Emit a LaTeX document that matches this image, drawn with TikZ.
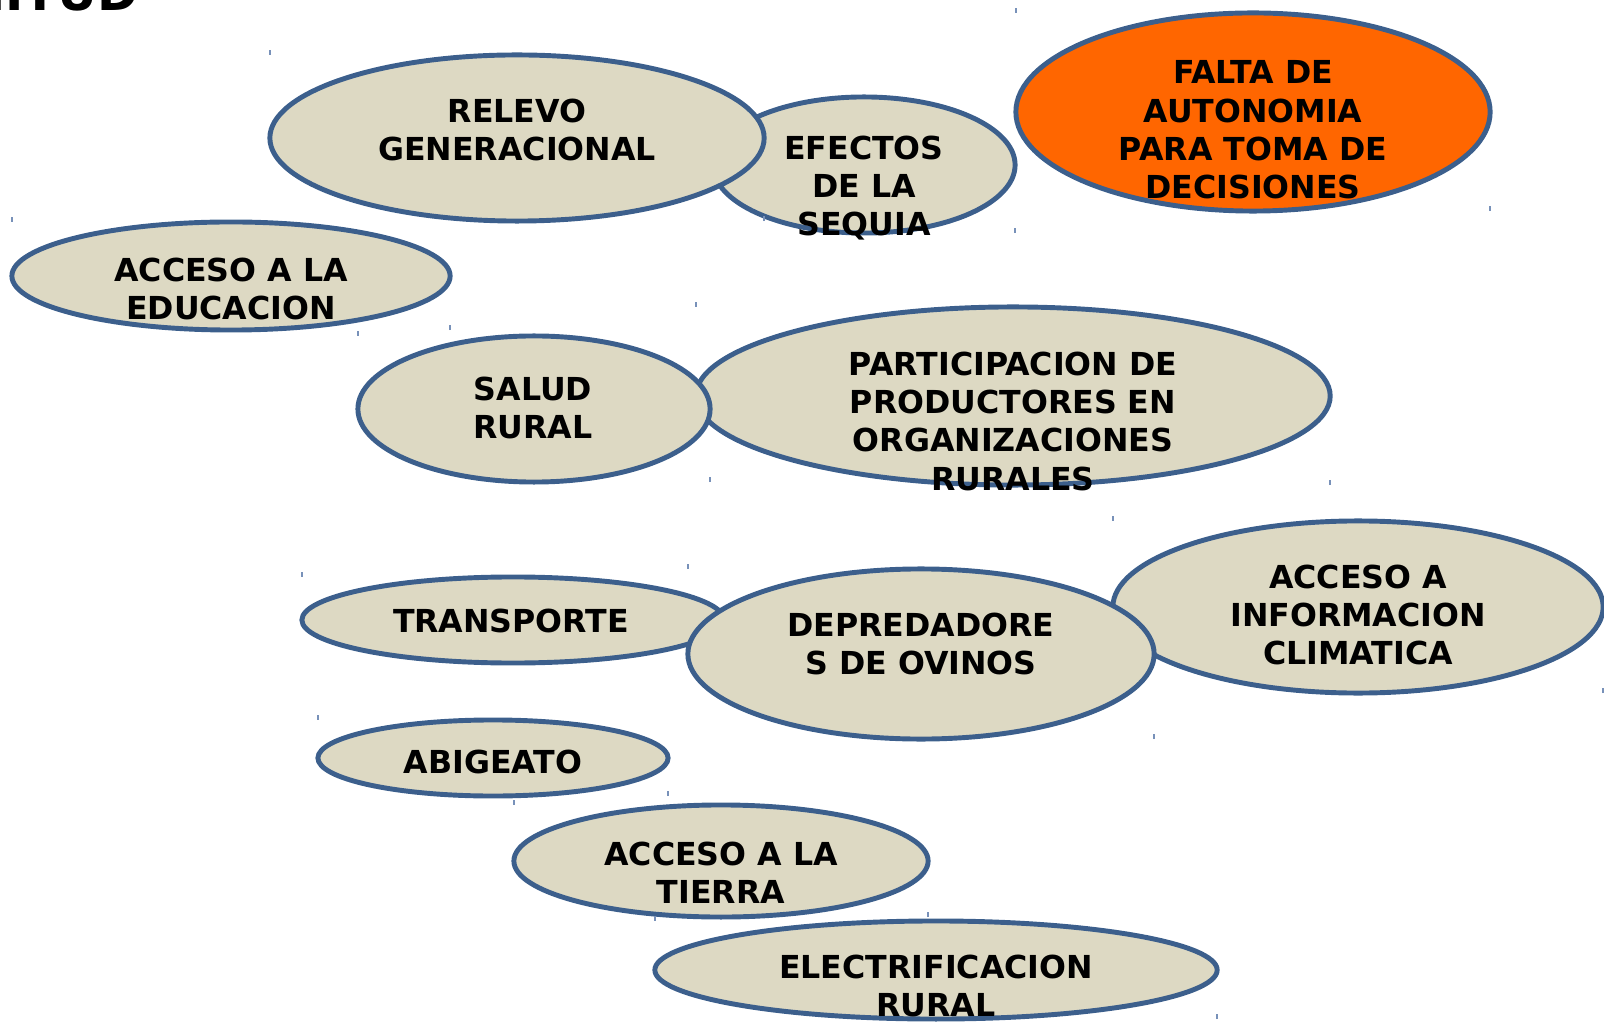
\documentclass[tikz,border=0pt]{standalone}
\usepackage{fontspec}
\setmainfont{DejaVu Sans}
\usetikzlibrary{shapes.geometric}
\definecolor{tan}{RGB}{221,217,195}
\definecolor{edge}{RGB}{60,95,140}
\definecolor{orng}{RGB}{255,102,0}
\definecolor{tickc}{RGB}{120,145,185}
\tikzstyle{tick} = [draw=tickc, line width=0.7pt]
\tikzstyle{blob} = [ellipse, draw=edge, fill=tan, line width=1.4pt,
  inner sep=0pt, outer sep=0pt,
  append after command={\pgfextra{
      \draw[tick] (\tikzlastnode.north -| \tikzlastnode.west) -- ++(0,-5)
      (\tikzlastnode.south -| \tikzlastnode.east) -- ++(0,-5);}}]
\tikzstyle{orangeblob} = [blob, fill=orng]
\tikzstyle{lbl} = [align=center, inner sep=0pt,
  font=\fontsize{9pt}{10.9pt}\selectfont\bfseries]

\begin{document}
\begin{tikzpicture}[x=0.01cm, y=-0.01cm]
    \clip (0,0) rectangle (1604,1022);
    \node[anchor=base east, inner sep=0pt,
    font=\fontsize{14pt}{16pt}\selectfont\bfseries] (title) at (139,11) {NITUD};

    % ellipses, back to front
    \node[blob, minimum width=3.02cm, minimum height=1.36cm] (efectos) at (864,165) {};
    \node[blob, minimum width=4.94cm, minimum height=1.66cm] (relevo) at (517,138) {};
    \node[orangeblob, minimum width=4.74cm, minimum height=1.98cm] (falta) at (1253,112) {};
    \node[blob, minimum width=4.38cm, minimum height=1.08cm] (educacion) at (231,276) {};
    \node[blob, minimum width=6.34cm, minimum height=1.78cm] (particip) at (1013,396) {};
    \node[blob, minimum width=3.52cm, minimum height=1.46cm] (salud) at (534,409) {};
    \node[blob, minimum width=4.22cm, minimum height=0.86cm] (transporte) at (513,620) {};
    \node[blob, minimum width=4.90cm, minimum height=1.72cm] (clima) at (1358,607) {};
    \node[blob, minimum width=4.66cm, minimum height=1.70cm] (depred) at (921,654) {};
    \node[blob, minimum width=3.50cm, minimum height=0.76cm] (abigeato) at (493,758) {};
    \node[blob, minimum width=4.14cm, minimum height=1.12cm] (tierra) at (721,861) {};
    \node[blob, minimum width=5.62cm, minimum height=0.98cm] (electrif) at (936,970) {};

    % texts
    \node[lbl] (relevoT) at (517,130) {RELEVO\\GENERACIONAL};
    \node[lbl] (efectosT) at (864,188) {EFECTOS\\DE LA\\SEQUIA};
    \node[lbl] (faltaT) at (1253,130) {FALTA DE\\AUTONOMIA\\PARA TOMA DE\\DECISIONES};
    \node[lbl] (educacionT) at (231,289) {ACCESO A LA\\EDUCACION};
    \node[lbl] (saludT) at (533,408) {SALUD\\RURAL};
    \node[lbl] (participT) at (1013,421)
    {PARTICIPACION DE\\PRODUCTORES EN\\ORGANIZACIONES\\RURALES};
    \node[lbl] (transporteT) at (511,621) {TRANSPORTE};
    \node[lbl] (depredT) at (921,644) {DEPREDADORE\\S DE OVINOS};
    \node[lbl] (climaT) at (1358,615) {ACCESO A\\INFORMACION\\CLIMATICA};
    \node[lbl] (abigeatoT) at (493,762) {ABIGEATO};
    \node[lbl] (tierraT) at (721,873) {ACCESO A LA\\TIERRA};
    \node[lbl] (electrifT) at (936,986) {ELECTRIFICACION\\RURAL};
\end{tikzpicture}
\end{document}
